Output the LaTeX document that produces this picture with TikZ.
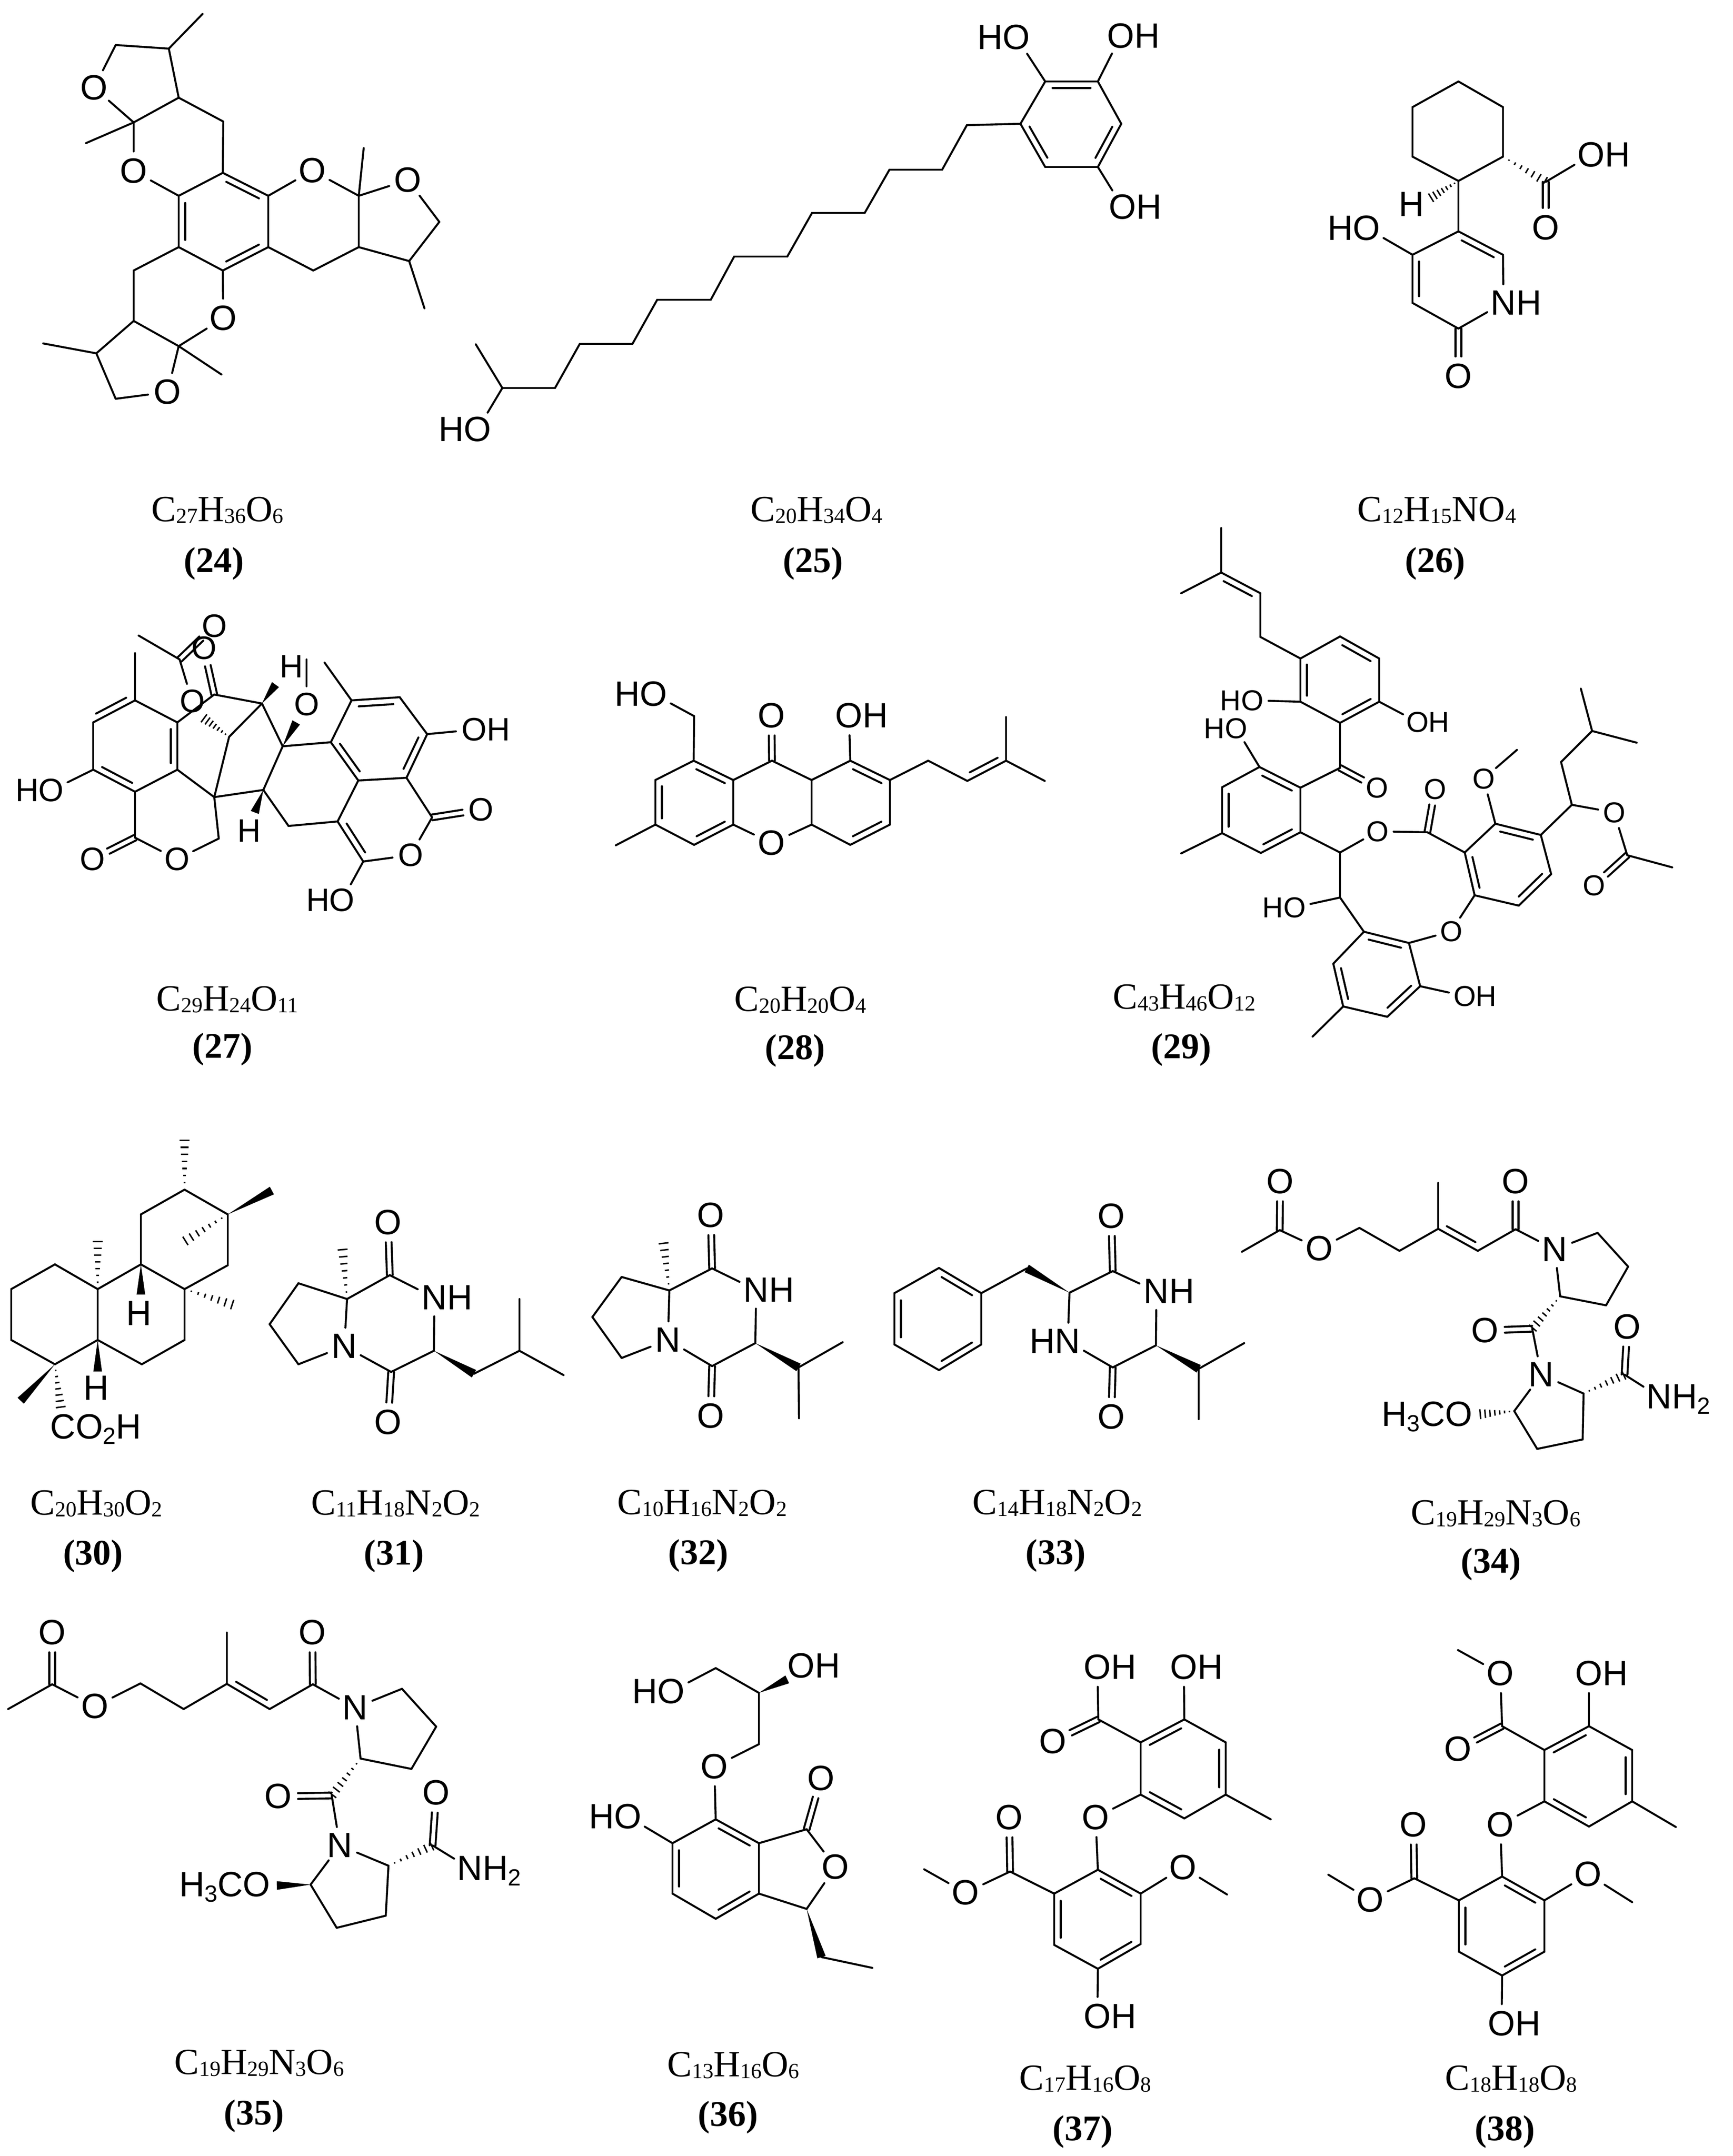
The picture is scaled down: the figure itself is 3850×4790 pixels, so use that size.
\documentclass[tikz,border=0pt]{standalone}
\usepackage{fontspec}
\setmainfont{Liberation Serif}
\newfontfamily\atomfont{Liberation Sans}
\usetikzlibrary{calc}
\tikzset{
	bond/.style={line width=1.1pt,line cap=round},
	atom/.style={circle,inner sep=0.3pt,font=\atomfont\fontsize{19.5}{20}\selectfont},
	formula/.style={inner sep=0pt,font=\fontsize{20.5}{22}\selectfont},
	number/.style={inner sep=0pt,font=\bfseries\fontsize{20}{22}\selectfont}
}
\newcommand{\sbs}[1]{\smash{\raisebox{-1pt}{\fontsize{12}{12}\selectfont #1}}}
\newcommand{\oh}{O\rlap{H}}
\newcommand{\ho}{\llap{H}O}
\newcommand{\nh}{N\rlap{H}}
\newcommand{\hn}{\llap{H}N}
\newcommand{\lsub}[1]{\smash{\raisebox{-3pt}{\fontsize{13}{13}\selectfont #1}}}
\newcommand{\dblgap}{11pt}
\newcommand{\atoms}[1]{\foreach \n/\x/\y in {#1} {\coordinate (\n) at (\x,\y);}}
\newcommand{\labs}[1]{\foreach \n/\x/\y/\lb in {#1} {\node[atom] (\n) at (\x,\y) {\lb};}}
\newcommand{\bonds}[1]{\foreach \p/\q in {#1} {\draw[bond] (\p) -- (\q);}}
% second line of a double bond, on the right of p to q
\newcommand{\dblin}[1]{\foreach \p/\q in {#1} {\draw[bond] ($(\p)!.14!(\q)!3.6pt!-90:(\q)$) -- ($(\q)!.14!(\p)!3.6pt!90:(\p)$);}}
\newcommand{\dblc}[1]{\foreach \p/\q in {#1} {
	\draw[bond,shorten >=\dblgap] ($(\p)!1.6pt!90:(\q)$) -- ($(\q)!1.6pt!-90:(\p)$);
	\draw[bond,shorten >=\dblgap] ($(\p)!1.6pt!-90:(\q)$) -- ($(\q)!1.6pt!90:(\p)$);}}
\newcommand{\wedgeb}[1]{\foreach \p/\q in {#1} {\fill (\p) -- ($(\q)!2.4pt!90:(\p)$) -- ($(\q)!2.4pt!-90:(\p)$) -- cycle;}}
\newcommand{\hashb}[1]{\foreach \p/\q in {#1} {\foreach \tp in {.14,.28,.42,.56,.70,.84,.98} {
	\pgfmathsetmacro\hw{\tp*2.8}
	\draw[line width=.8pt] ($(\p)!\tp!(\q)!\hw pt!90:(\q)$) -- ($(\p)!\tp!(\q)!\hw pt!-90:(\q)$);}}}

\begin{document}
\begin{tikzpicture}[x=0.25pt,y=-0.25pt]
\useasboundingbox (0,0) rectangle (3850,4790);

% 24
\begin{scope}[name prefix=m24-]
\atoms{c1/375/108,c2/257/100,c3/397/217,c4/297/272,c5/496/270,c6/495/384,c7/596/435,c8/596/549,c9/495/601,c10/397/549,c11/397/435,c12/797/435,c13/976/493,c14/909/580,c15/797/549,c16/696/601,c17/397/769,c18/257/886,c19/214/785,c20/297/713,c21/297/601,me1/450/31,me2/191/318,me3/808/329,me4/943/685,me5/492/832,me6/96/763}
\labs{o1/209/195/O,o2/297/380/O,o3/694/379/O,o4/906/400/O,o5/496/707/O,o6/372/871/O}
\bonds{me1/c1,c1/c2,c2/o1,o1/c4,c4/c3,c3/c1,me2/c4,c4/o2,o2/c11,c3/c5,c5/c6,c6/c7,c7/c8,c8/c9,c9/c10,c10/c11,c11/c6,c7/o3,o3/c12,c12/me3,c12/o4,o4/c13,c13/c14,c14/c15,c15/c12,c14/me4,c15/c16,c16/c8,c9/o5,o5/c17,c17/me5,c17/o6,o6/c18,c18/c19,c19/c20,c20/c17,c19/me6,c20/c21,c21/c10}
\dblin{c6/c7,c8/c9,c10/c11}
\node[formula] (f) at (483,1132) {C\sbs{27}H\sbs{36}O\sbs{6}};
\node[number] (n) at (475,1252) {(24)};
\end{scope}

% 25
\begin{scope}[name prefix=m25-]
\atoms{r1/2322/181,r2/2439/181,r3/2491/275,r4/2439/371,r5/2322/371,r6/2267/275,s1/2148/278,s2/2093/377,s3/1976/377,s4/1921/473,s5/1804/473,s6/1749/570,s7/1631/570,s8/1579/666,s9/1460/666,s10/1405/764,s11/1288/764,s12/1233/862,s13/1116/862,me1/1057/765}
\labs{o1/2258/83/\ho,o2/2490/80/\oh,o3/2494/460/\oh,o4/1061/954/\ho}
\bonds{r1/r2,r2/r3,r3/r4,r4/r5,r5/r6,r6/r1,r1/o1,r2/o2,r4/o3,r6/s1,s1/s2,s2/s3,s3/s4,s4/s5,s5/s6,s6/s7,s7/s8,s8/s9,s9/s10,s10/s11,s11/s12,s12/s13,s13/me1,s13/o4}
\dblin{r1/r2,r3/r4,r5/r6}
\node[formula] (f) at (1814,1132) {C\sbs{20}H\sbs{34}O\sbs{4}};
\node[number] (n) at (1806,1252) {(25)};
\end{scope}

% 26
\begin{scope}[name prefix=m26-]
\atoms{c1/3240/181,c2/3339/238,c3/3339/348,c4/3240/402,c5/3138/348,c6/3138/238,c7/3434/404,c8/3240/514,c9/3339/566,c10/3240/730,c11/3138/673,c12/3138/566,w1/3178/440}
\labs{h1/3136/454/H,o1/3535/344/\oh,o2/3434/506/O,n1/3340/673/\nh,o3/3240/836/O,o4/3036/507/\ho}
\bonds{c1/c2,c2/c3,c3/c4,c4/c5,c5/c6,c6/c1,c7/o1,c4/c8,c8/c9,c9/n1,n1/c10,c10/c11,c11/c12,c12/c8,c12/o4}
\dblin{c8/c9,c11/c12}
\dblc{c7/o2,c10/o3}
\hashb{c3/c7,c4/w1}
\node[formula] (f) at (3192,1132) {C\sbs{12}H\sbs{15}NO\sbs{4}};
\node[number] (n) at (3188,1252) {(26)};
\end{scope}

% 27
\begin{scope}[name prefix=m27-,atom/.append style={font=\atomfont\fontsize{18}{19}\selectfont}]
\renewcommand{\dblgap}{10pt}
\atoms{c1/300/1556,c2/207/1605,c3/207/1710,c4/300/1759,c5/394/1710,c6/394/1605,c7/300/1861,c8/486/1863,c9/476/1771,c10/585/1755,c11/641/1835,c12/750/1825,c13/796/1734,c14/903/1728,c15/949/1631,c16/888/1549,c17/781/1556,c18/735/1649,c19/628/1658,c20/582/1563,c21/509/1637,c22/476/1543,c23/399/1465,c24/807/1914,c25/960/1816,me1/300/1451,me2/721/1472,me3/308/1412,me4/681/1465,w1/566/1805,w2/612/1521,w3/658/1605,w4/452/1595}
\labs{o1/114/1756/\ho,o2/205/1909/O,o3/393/1909/O,o4/1053/1621/\oh,o5/1068/1799/O,o6/912/1900/O,o7/760/2000/\ho,o8/681/1565/O,o9/453/1440/O,o10/476/1391/O,o11/427/1558/O,h1/553/1846/H,h2/647/1481/H}
\bonds{me1/c1,c1/c2,c2/c3,c3/c4,c4/c5,c5/c6,c6/c1,c3/o1,c4/c7,c7/o3,o3/c8,c8/c9,c9/c5,c9/c10,c10/c19,c19/c20,c20/c22,c22/c6,c20/c21,c21/c9,c19/c18,c18/c17,c17/c16,c16/c15,c15/c14,c14/c13,c13/c18,c17/me2,c15/o4,c14/c25,c25/o6,o6/c24,c24/o7,c24/c12,c12/c13,c12/c11,c11/c10,o8/me4,c23/me3,c23/o11}
\dblin{c6/c5,c1/c2,c4/c3,c17/c16,c15/c14,c13/c18,c24/c12}
\dblc{c7/o2,c25/o5,c22/o9,c23/o10}
\wedgeb{c10/w1,c20/w2,c19/w3}
\hashb{c21/w4}
\node[formula] (f) at (505,2219) {C\sbs{29}H\sbs{24}O\sbs{11}};
\node[number] (n) at (494,2331) {(27)};
\end{scope}

% 28
\begin{scope}[name prefix=m28-]
\atoms{c1/1541/1690,c2/1456/1733,c3/1456/1832,c4/1542/1877,c5/1629/1832,c6/1629/1733,c7/1715/1690,c8/1803/1733,c9/1803/1832,c10/1889/1690,c11/1977/1733,c12/1977/1832,c13/1889/1877,c14/1542/1591,c15/2062/1690,c16/2149/1735,c17/2235/1690,me1/1368/1878,me2/2235/1593,me3/2321/1735}
\labs{o1/1714/1590/O,o2/1714/1873/O,o3/1886/1590/\oh,o4/1452/1542/\ho}
\bonds{c1/c2,c2/c3,c3/c4,c4/c5,c5/c6,c6/c1,c6/c7,c7/c8,c8/c9,c8/c10,c10/c11,c11/c12,c12/c13,c13/c9,c5/o2,o2/c9,c10/o3,c1/c14,c14/o4,c3/me1,c11/c15,c15/c16,c16/c17,c17/me2,c17/me3}
\dblin{c1/c6,c5/c4,c3/c2,c10/c11,c12/c13,c17/c16}
\dblc{c7/o1}
\node[formula] (f) at (1778,2220) {C\sbs{20}H\sbs{20}O\sbs{4}};
\node[number] (n) at (1766,2334) {(28)};
\end{scope}

% 29
\begin{scope}[name prefix=m29-,atom/.append style={font=\atomfont\fontsize{16}{17}\selectfont}]
\renewcommand{\dblgap}{9pt}
\atoms{c1/2713/1272,c2/2800/1318,c3/2800/1415,c4/2889/1463,c5/2977/1414,c6/3064/1463,c7/3064/1559,c8/2977/1606,c9/2889/1559,c10/2977/1706,c11/2889/1750,c12/2798/1704,c13/2715/1749,c14/2715/1851,c15/2801/1895,c16/2889/1849,c17/2977/1894,c18/3171/1849,c19/3254/1894,c20/3322/1830,c21/3423/1855,c22/3446/1942,c23/3374/2012,c24/3276/1989,c25/3130/2095,c26/3030/2070,c27/2962/2141,c28/2984/2236,c29/3082/2259,c30/3155/2191,c31/2977/1994,c32/3492/1788,c33/3468/1693,c34/3537/1624,c35/3615/1900,me1/2713/1173,me2/2624/1318,me3/2624/1896,me4/3370/1666,me5/2916/2303,me6/3512/1530,me7/3636/1650,me8/3715/1927}
\labs{o1/2782/1556/\ho,o2/3149/1604/\oh,o3/3059/1750/O,o4/2746/1618/\ho,o5/3060/1847/O,o6/3188/1753/O,o7/3296/1730/O,o8/3224/2069/O,o9/3254/2213/\oh,o10/2876/2016/\ho,o11/3586/1805/O,o12/3541/1967/O}
\bonds{me1/c1,me2/c1,c1/c2,c2/c3,c3/c4,c4/c5,c5/c6,c6/c7,c7/c8,c8/c9,c9/c4,c9/o1,c7/o2,c8/c10,c10/c11,c11/c12,c12/c13,c13/c14,c14/c15,c15/c16,c16/c11,c12/o4,c14/me3,c16/c17,c17/o5,o5/c18,c18/c19,c19/c20,c20/c21,c21/c22,c22/c23,c23/c24,c24/c19,c20/o7,o7/me4,c24/o8,o8/c25,c25/c26,c26/c27,c27/c28,c28/c29,c29/c30,c30/c25,c28/me5,c30/o9,c26/c31,c31/c17,c31/o10,c21/c32,c32/o11,o11/c35,c35/me8,c32/c33,c33/c34,c34/me6,c34/me7}
\dblin{c1/c2,c5/c6,c7/c8,c9/c4,c12/c11,c16/c15,c14/c13,c20/c21,c22/c23,c24/c19,c26/c25,c30/c29,c28/c27}
\dblc{c10/o3,c18/o6,c35/o12}
\node[formula] (f) at (2631,2215) {C\sbs{43}H\sbs{46}O\sbs{12}};
\node[number] (n) at (2624,2332) {(29)};
\end{scope}

% 30
\begin{scope}[name prefix=m30-]
\atoms{c1/122/2809,c2/25/2864,c3/25/2977,c4/122/3031,c5/217/2977,c6/217/2864,c7/313/2809,c8/410/2864,c9/410/2977,c10/315/3031,c11/313/2698,c12/410/2643,c13/506/2698,c14/506/2811,w1/410/2531,w2/604/2645,w3/410/2758,w4/217/2756,w5/518/2899,w6/313/2876,w7/217/3047,w8/46/3112,w9/135/3128}
\labs{h1/309/2918/H,h2/214/3084/H,c15/140/3170/{C\smash{\rlap{O\lsub{2}H}}}}
\bonds{c1/c2,c2/c3,c3/c4,c4/c5,c5/c6,c6/c1,c6/c7,c7/c8,c8/c9,c9/c10,c10/c5,c7/c11,c11/c12,c12/c13,c13/c14,c14/c8}
\wedgeb{c13/w2,c7/w6,c5/w7,c4/w8}
\hashb{c12/w1,c13/w3,c6/w4,c8/w5,c4/w9}
\node[formula] (f) at (214,3339) {C\sbs{20}H\sbs{30}O\sbs{2}};
\node[number] (n) at (207,3457) {(30)};
\end{scope}

% 31
\begin{scope}[name prefix=m31-]
\atoms{c1/771/2886,c2/866/2833,c3/964/3001,c4/869/3048,c5/663/3031,c6/599/2942,c7/663/2851,c8/1053/3052,c9/1154/3001,me1/1154/2886,me2/1252/3055,w1/761/2774}
\labs{o1/862/2716/O,n1/965/2883/\nh,o2/862/3160/O,n2/765/2991/N}
\bonds{c1/c2,c2/n1,n1/c3,c3/c4,c4/n2,n2/c1,n2/c5,c5/c6,c6/c7,c7/c1,c8/c9,c9/me1,c9/me2}
\dblc{c2/o1,c4/o2}
\wedgeb{c3/c8}
\hashb{c1/w1}
\node[formula] (f) at (879,3339) {C\sbs{11}H\sbs{18}N\sbs{2}O\sbs{2}};
\node[number] (n) at (875,3457) {(31)};
\end{scope}

% 32
\begin{scope}[name prefix=m32-]
\atoms{c1/1487/2867,c2/1582/2818,c3/1678/2984,c4/1582/3035,c5/1381/3017,c6/1316/2926,c7/1381/2837,c8/1774/3038,me1/1872/2982,me2/1775/3151,w1/1474/2760}
\labs{o1/1579/2700/O,n1/1680/2866/\nh,o2/1579/3146/O,n2/1484/2977/N}
\bonds{c1/c2,c2/n1,n1/c3,c3/c4,c4/n2,n2/c1,n2/c5,c5/c6,c6/c7,c7/c1,c8/me1,c8/me2}
\dblc{c2/o1,c4/o2}
\wedgeb{c3/c8}
\hashb{c1/w1}
\node[formula] (f) at (1560,3338) {C\sbs{10}H\sbs{16}N\sbs{2}O\sbs{2}};
\node[number] (n) at (1551,3456) {(32)};
\end{scope}

% 33
\begin{scope}[name prefix=m33-]
\atoms{p1/2086/2817,p2/2180/2873,p3/2180/2987,p4/2086/3044,p5/1987/2987,p6/1987/2873,c1/2376/2872,c2/2472/2824,c3/2568/2989,c4/2472/3038,c5/2281/2818,c6/2663/3041,me1/2764/2984,me2/2663/3153}
\labs{o1/2469/2702/O,n1/2569/2869/\nh,o2/2469/3148/O,n2/2372/2980/\hn}
\bonds{p1/p2,p2/p3,p3/p4,p4/p5,p5/p6,p6/p1,p2/c5,c1/c2,c2/n1,n1/c3,c3/c4,c4/n2,n2/c1,c6/me1,c6/me2}
\dblin{p1/p2,p3/p4,p5/p6}
\dblc{c2/o1,c4/o2}
\wedgeb{c1/c5,c3/c6}
\node[formula] (f) at (2349,3338) {C\sbs{14}H\sbs{18}N\sbs{2}O\sbs{2}};
\node[number] (n) at (2345,3456) {(33)};
\end{scope}

% 34
\begin{scope}[name prefix=m34-]
\atoms{c1/2843/2733,c2/3020/2728,c3/3109/2779,c4/3195/2730,c5/3283/2779,c6/3367/2731,c7/3549/2739,c8/3617/2814,c9/3568/2900,c10/3466/2880,c11/3404/2952,c12/3518/3096,c13/3516/3198,c14/3415/3219,c15/3364/3135,c16/3609/3054,me1/2759/2781,me2/3195/2628,w1/3287/3142}
\labs{o1/2844/2625/O,o2/2931/2774/O,o3/3367/2625/O,n1/3454/2776/N,o4/3299/2956/O,n2/3424/3054/N,o5/3615/2948/O,n3/3686/3103/{N\smash{\rlap{H\lsub{2}}}},o6/3241/3142/{\smash{\llap{H\lsub{3}C}}O}}
\bonds{me1/c1,c1/o2,o2/c2,c2/c3,c3/c4,c4/me2,c4/c5,c5/c6,c6/n1,n1/c7,c7/c8,c8/c9,c9/c10,c10/n1,c11/n2,n2/c12,c12/c13,c13/c14,c14/c15,c15/n2,c16/n3}
\dblin{c5/c4}
\dblc{c1/o1,c6/o3,c11/o4,c16/o5}
\hashb{c10/c11,c12/c16,c15/w1}
\node[formula] (f) at (3323,3361) {C\sbs{19}H\sbs{29}N\sbs{3}O\sbs{6}};
\node[number] (n) at (3312,3475) {(34)};
\end{scope}

% 35
\begin{scope}[name prefix=m35-]
\atoms{c1/116/3742,c2/312/3740,c3/408/3797,c4/504/3741,c5/599/3797,c6/695/3742,c7/893/3752,c8/969/3836,c9/914/3930,c10/801/3907,c11/737/3989,c12/863/4145,c13/857/4256,c14/748/4283,c15/690/4187,c16/961/4100,me1/18/3797,me2/504/3627,w1/615/4189}
\labs{o1/116/3627/O,o2/211/3791/O,o3/694/3627/O,n1/789/3794/N,o4/618/3991/O,n2/755/4100/N,o5/969/3983/O,n3/1044/4151/{N\smash{\rlap{H\lsub{2}}}},o6/570/4187/{\smash{\llap{H\lsub{3}C}}O}}
\bonds{me1/c1,c1/o2,o2/c2,c2/c3,c3/c4,c4/me2,c4/c5,c5/c6,c6/n1,n1/c7,c7/c8,c8/c9,c9/c10,c10/n1,c11/n2,n2/c12,c12/c13,c13/c14,c14/c15,c15/n2,c16/n3}
\dblin{c5/c4}
\dblc{c1/o1,c6/o3,c11/o4,c16/o5}
\wedgeb{c15/w1}
\hashb{c10/c11,c12/c16}
\node[formula] (f) at (576,4582) {C\sbs{19}H\sbs{29}N\sbs{3}O\sbs{6}};
\node[number] (n) at (564,4701) {(35)};
\end{scope}

% 36
\begin{scope}[name prefix=m36-]
\atoms{c1/1590/3706,c2/1686/3761,c3/1686/3875,c4/1590/4042,c5/1686/4095,c6/1686/4207,c7/1590/4263,c8/1494/4207,c9/1494/4095,c10/1792/4064,c11/1792/4241,c12/1825/4348,me1/1938/4372,w1/1749/3731}
\labs{o1/1491/3758/\ho,o2/1780/3701/\oh,o3/1587/3925/O,o4/1395/4036/\ho,o5/1824/3951/O,o6/1856/4148/O}
\bonds{o1/c1,c1/c2,c2/c3,c3/o3,o3/c4,c4/c5,c5/c6,c6/c7,c7/c8,c8/c9,c9/c4,c9/o4,c5/c10,c10/o6,o6/c11,c11/c6,c12/me1}
\dblin{c4/c5,c6/c7,c8/c9}
\dblc{c10/o5}
\wedgeb{c2/w1,c11/c12}
\node[formula] (f) at (1629,4587) {C\sbs{13}H\sbs{16}O\sbs{6}};
\node[number] (n) at (1617,4704) {(36)};
\end{scope}

% 37
\begin{scope}[name prefix=m37-]
\atoms{c1/2440/3820,c2/2534/3871,c3/2631/3820,c4/2723/3871,c5/2723/3987,c6/2631/4040,c7/2534/3987,c8/2439/4154,c9/2534/4207,c10/2534/4319,c11/2439/4374,c12/2342/4321,c13/2342/4207,c14/2244/4158,me1/2823/4042,me2/2726/4209,me3/2053/4153}
\labs{o1/2438/3704/\oh,o2/2630/3704/\oh,o3/2339/3869/O,o4/2434/4038/O,o5/2628/4149/O,o6/2242/4038/O,o7/2145/4205/O,o8/2438/4480/\oh}
\bonds{c1/o1,c3/o2,c1/c2,c2/c3,c3/c4,c4/c5,c5/c6,c6/c7,c7/c2,c5/me1,c7/o4,o4/c8,c8/c9,c9/c10,c10/c11,c11/c12,c12/c13,c13/c8,c9/o5,o5/me2,c11/o8,c13/c14,c14/o7,o7/me3}
\dblin{c2/c3,c4/c5,c6/c7,c8/c9,c10/c11,c12/c13}
\dblc{c1/o3,c14/o6}
\node[formula] (f) at (2411,4617) {C\sbs{17}H\sbs{16}O\sbs{8}};
\node[number] (n) at (2405,4736) {(37)};
\end{scope}

% 38
\begin{scope}[name prefix=m38-]
\atoms{c1/3337/3835,c2/3431/3888,c3/3530/3835,c4/3626/3888,c5/3626/4002,c6/3530/4058,c7/3431/4002,c8/3337/4169,c9/3431/4222,c10/3431/4336,c11/3337/4389,c12/3241/4336,c13/3241/4222,c14/3142/4173,me1/3723/4059,me2/3626/4226,me3/2951/4165,me4/3239/3666}
\labs{o1/3333/3718/O,o2/3530/3718/\oh,o3/3239/3886/O,o4/3333/4054/O,o5/3528/4164/O,o6/3140/4054/O,o7/3044/4221/O,o8/3336/4496/\oh}
\bonds{me4/o1,c1/o1,c3/o2,c1/c2,c2/c3,c3/c4,c4/c5,c5/c6,c6/c7,c7/c2,c5/me1,c7/o4,o4/c8,c8/c9,c9/c10,c10/c11,c11/c12,c12/c13,c13/c8,c9/o5,o5/me2,c11/o8,c13/c14,c14/o7,o7/me3}
\dblin{c2/c3,c4/c5,c6/c7,c8/c9,c10/c11,c12/c13}
\dblc{c1/o3,c14/o6}
\node[formula] (f) at (3357,4617) {C\sbs{18}H\sbs{18}O\sbs{8}};
\node[number] (n) at (3343,4736) {(38)};
\end{scope}
\end{tikzpicture}
\end{document}
